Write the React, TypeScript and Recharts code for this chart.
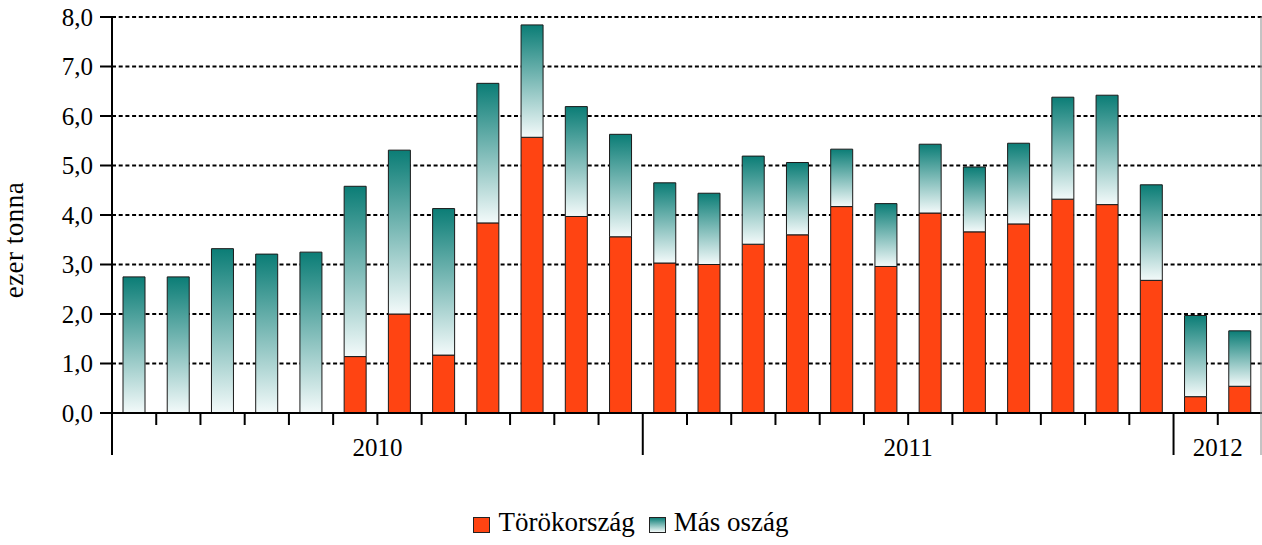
import React from 'react';
import { BarChart, Bar, XAxis, YAxis, CartesianGrid, Legend, Label } from 'recharts';

const months = ['jan.', 'feb.', 'márc.', 'ápr.', 'máj.', 'jún.', 'júl.', 'aug.', 'szept.', 'okt.', 'nov.', 'dec.',
  'jan.', 'feb.', 'márc.', 'ápr.', 'máj.', 'jún.', 'júl.', 'aug.', 'szept.', 'okt.', 'nov.', 'dec.',
  'jan.', 'feb.'];
const years = ['2010', '2010', '2010', '2010', '2010', '2010', '2010', '2010', '2010', '2010', '2010', '2010',
  '2011', '2011', '2011', '2011', '2011', '2011', '2011', '2011', '2011', '2011', '2011', '2011',
  '2012', '2012'];
const turkey = [0, 0, 0, 0, 0, 1.14, 2.0, 1.17, 3.84, 5.57, 3.97, 3.56,
  3.03, 3.0, 3.41, 3.6, 4.17, 2.96, 4.04, 3.66, 3.82, 4.32, 4.21, 2.68,
  0.33, 0.54];
const other = [2.75, 2.75, 3.32, 3.21, 3.25, 3.44, 3.31, 2.96, 2.82, 2.27, 2.22, 2.07,
  1.62, 1.44, 1.78, 1.46, 1.16, 1.27, 1.39, 1.31, 1.63, 2.06, 2.21, 1.93,
  1.64, 1.12];
const yTicks = [0, 1, 2, 3, 4, 5, 6, 7, 8];
const seriesNames = ['Törökország', 'Más oszág'];

const data = months.map((m, i) => ({ key: `${years[i]}-${i}`, month: m, year: years[i], tr: turkey[i], other: other[i] }));

const W = 1262;
const H = 545;
const PLOT_LEFT = 112;
const PLOT_TOP = 17;
const BW = (W - PLOT_LEFT) / months.length;
const FONT = 'Liberation Serif, DejaVu Serif, serif';
const RED = '#FF4412';

const yearStart = (i: number) => i === 0 || years[i] !== years[i - 1];
const yearCount = (y: string) => years.filter((v) => v === y).length;

function XTick(props: any) {
  const { x, y, payload } = props;
  const i = payload.index ?? props.index;
  const left = x - BW / 2;
  const right = x + BW / 2;
  const els: any[] = [];
  if (yearStart(i)) {
    els.push(<line key="l" x1={left} x2={left} y1={y} y2={y + 42} stroke="#000" strokeWidth={2} />);
    const cx = left + (yearCount(years[i]) * BW) / 2;
    els.push(
      <text key="t" x={cx} y={y + 43} textAnchor="middle" style={{ fontFamily: FONT }} fontSize={25} fill="#000">
        {years[i]}
      </text>
    );
  } else {
    els.push(<line key="l" x1={left} x2={left} y1={y} y2={y + 12} stroke="#000" strokeWidth={2} />);
  }
  if (i === months.length - 1) {
    els.push(<line key="r" x1={right - 1} x2={right - 1} y1={PLOT_TOP} y2={y + 42} stroke="#888" strokeWidth={1} />);
  }
  return <g>{els}</g>;
}

function LegendContent() {
  const sq = (bg: string) => ({
    display: 'inline-block',
    width: 15,
    height: 14,
    border: '1px solid #222',
    background: bg,
    marginRight: 8,
    marginTop: 4,
  });
  return (
    <div style={{ display: 'flex', justifyContent: 'center', alignItems: 'center', fontFamily: FONT, fontSize: 27, color: '#000' }}>
      <span style={{ display: 'flex', alignItems: 'center', marginRight: 14 }}>
        <span style={sq(RED)} />
        {seriesNames[0]}
      </span>
      <span style={{ display: 'flex', alignItems: 'center' }}>
        <span style={sq('linear-gradient(#0E7F78, #F2FAF9)')} />
        {seriesNames[1]}
      </span>
    </div>
  );
}

export default function App() {
  return (
    <div style={{ position: 'absolute', left: 0, top: 0, width: W, height: H, background: '#fff', fontFamily: FONT }}>
      <BarChart
        width={W}
        height={H}
        data={data}
        margin={{ top: PLOT_TOP, right: 0, bottom: 72, left: 0 }}
        barSize={22}
      >
        <defs>
          <linearGradient id="tealGrad" x1="0" y1="0" x2="0" y2="1">
            <stop offset="0%" stopColor="#0B7D76" />
            <stop offset="100%" stopColor="#F3FAFA" />
          </linearGradient>
        </defs>
        <CartesianGrid vertical={false} stroke="#000" strokeWidth={2} strokeDasharray="4 2.7" />
        <XAxis
          dataKey="key"
          height={60}
          interval={0}
          axisLine={{ stroke: '#000', strokeWidth: 2 }}
          tickLine={false}
          tickSize={0}
          tickMargin={0}
          tick={<XTick />}
        />
        <YAxis
          width={PLOT_LEFT}
          domain={[0, 8]}
          ticks={yTicks}
          interval={0}
          tickFormatter={(v: number) => v.toFixed(1).replace('.', ',')}
          axisLine={{ stroke: '#000', strokeWidth: 2 }}
          tickLine={{ stroke: '#000', strokeWidth: 2 }}
          tickSize={12}
          tickMargin={7}
          tick={{ fill: '#000', fontSize: 25, style: { fontFamily: FONT } }}
        >
          <Label
            content={() => (
              <text
                x={23}
                y={240}
                transform="rotate(-90 23 240)"
                textAnchor="middle"
                style={{ fontFamily: FONT, letterSpacing: 0.5 }}
                fontSize={27}
                fill="#000"
              >
                ezer tonna
              </text>
            )}
          />
        </YAxis>
        <Legend
          layout="horizontal"
          verticalAlign="middle"
          align="center"
          wrapperStyle={{ top: 507, left: 0, width: W }}
          content={<LegendContent />}
        />
        <Bar dataKey="tr" name={seriesNames[0]} stackId="a" fill={RED} stroke="#1a1a1a" strokeWidth={1} isAnimationActive={false} />
        <Bar dataKey="other" name={seriesNames[1]} stackId="a" fill="url(#tealGrad)" stroke="#1a1a1a" strokeWidth={1} isAnimationActive={false} />
      </BarChart>
    </div>
  );
}
